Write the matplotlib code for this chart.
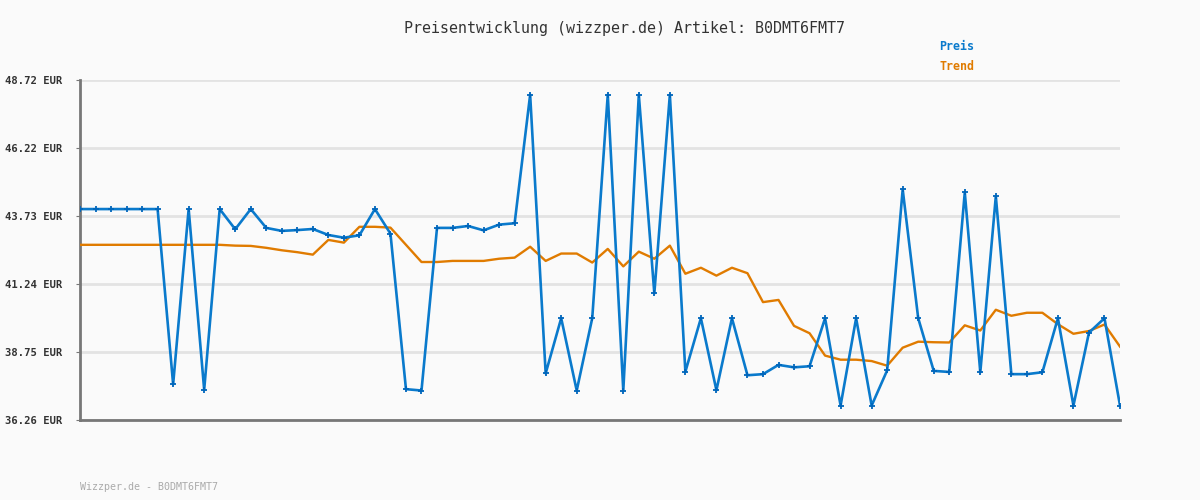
import matplotlib
matplotlib.use("Agg")
import matplotlib.pyplot as plt

# price points (EUR)
preis = [43.99, 43.99, 43.99, 43.99, 43.99, 43.99, 37.57, 43.99, 37.37, 43.99,
         43.25, 43.99, 43.30, 43.19, 43.22, 43.26, 43.04, 42.94, 43.03, 43.99,
         43.09, 37.39, 37.34, 43.30, 43.30, 43.37, 43.21, 43.42, 43.47, 48.18,
         37.97, 39.99, 37.34, 39.99, 48.18, 37.34, 48.18, 40.90, 48.18, 38.03,
         39.99, 37.35, 39.99, 37.90, 37.94, 38.28, 38.19, 38.23, 39.99, 36.79,
         39.99, 36.79, 38.08, 44.71, 39.99, 38.06, 38.02, 44.60, 38.01, 44.46,
         37.94, 37.94, 38.01, 39.99, 36.79, 39.46, 39.99, 36.79]

trend = [42.68, 42.68, 42.68, 42.68, 42.68, 42.68, 42.68, 42.68, 42.68, 42.68,
         42.65, 42.64, 42.57, 42.48, 42.41, 42.32, 42.86, 42.76, 43.34, 43.34,
         43.31, 42.68, 42.05, 42.05, 42.09, 42.09, 42.09, 42.17, 42.21, 42.61,
         42.09, 42.36, 42.36, 42.03, 42.53, 41.89, 42.43, 42.17, 42.65, 41.62,
         41.84, 41.55, 41.84, 41.64, 40.58, 40.66, 39.71, 39.44, 38.62, 38.47,
         38.47, 38.42, 38.25, 38.91, 39.13, 39.11, 39.10, 39.73, 39.54, 40.30,
         40.08, 40.19, 40.19, 39.77, 39.42, 39.52, 39.76, 38.95]

y_ticks = [36.26, 38.75, 41.24, 43.73, 46.22, 48.72]
artikel = "B0DMT6FMT7"

blue = "#0a7acc"
orange = "#e07b00"
bg = "#fafafa"
mono = "DejaVu Sans Mono"

fig = plt.figure(figsize=(12, 5), dpi=100, facecolor=bg)
ax = fig.add_axes([80 / 1200, 80 / 500, 1040 / 1200, 340 / 500], facecolor=bg)

x = list(range(len(preis)))
ax.plot(x, trend, color=orange, lw=1.7, zorder=3)
ax.plot(x, preis, color=blue, lw=1.9, marker="+", ms=4, mew=1.3,
        mec="#0066bb", zorder=4)

ax.set_xlim(0, len(preis) - 1)
ax.set_ylim(y_ticks[0], y_ticks[-1])
ax.set_yticks(y_ticks)
ax.set_yticklabels([f"{v:.2f} EUR" for v in y_ticks], family=mono,
                   fontweight="bold", fontsize=7.6, color="#333333")
ax.set_xticks([])
ax.tick_params(axis="y", length=3, color="#777777", pad=10)
ax.grid(axis="y", color="#e3e3e3", lw=2, zorder=0)

for side in ("top", "right"):
    ax.spines[side].set_visible(False)
for side in ("left", "bottom"):
    ax.spines[side].set_color("#777777")
    ax.spines[side].set_linewidth(2)

fig.text(624 / 1200, 1 - 28 / 500, f"Preisentwicklung (wizzper.de) Artikel: {artikel}",
         ha="center", va="center", family=mono, fontsize=10.8, color="#333333")
fig.text(939 / 1200, 1 - 47 / 500, "Preis", ha="left", va="center",
         family=mono, fontweight="bold", fontsize=8.4, color=blue)
fig.text(939 / 1200, 1 - 67 / 500, "Trend", ha="left", va="center",
         family=mono, fontweight="bold", fontsize=8.4, color=orange)
fig.text(80 / 1200, 1 - 487 / 500, f"Wizzper.de - {artikel}", ha="left",
         va="center", family=mono, fontsize=7.2, color="#aaaaaa")

fig.savefig("out.png", dpi=100, facecolor=bg)
